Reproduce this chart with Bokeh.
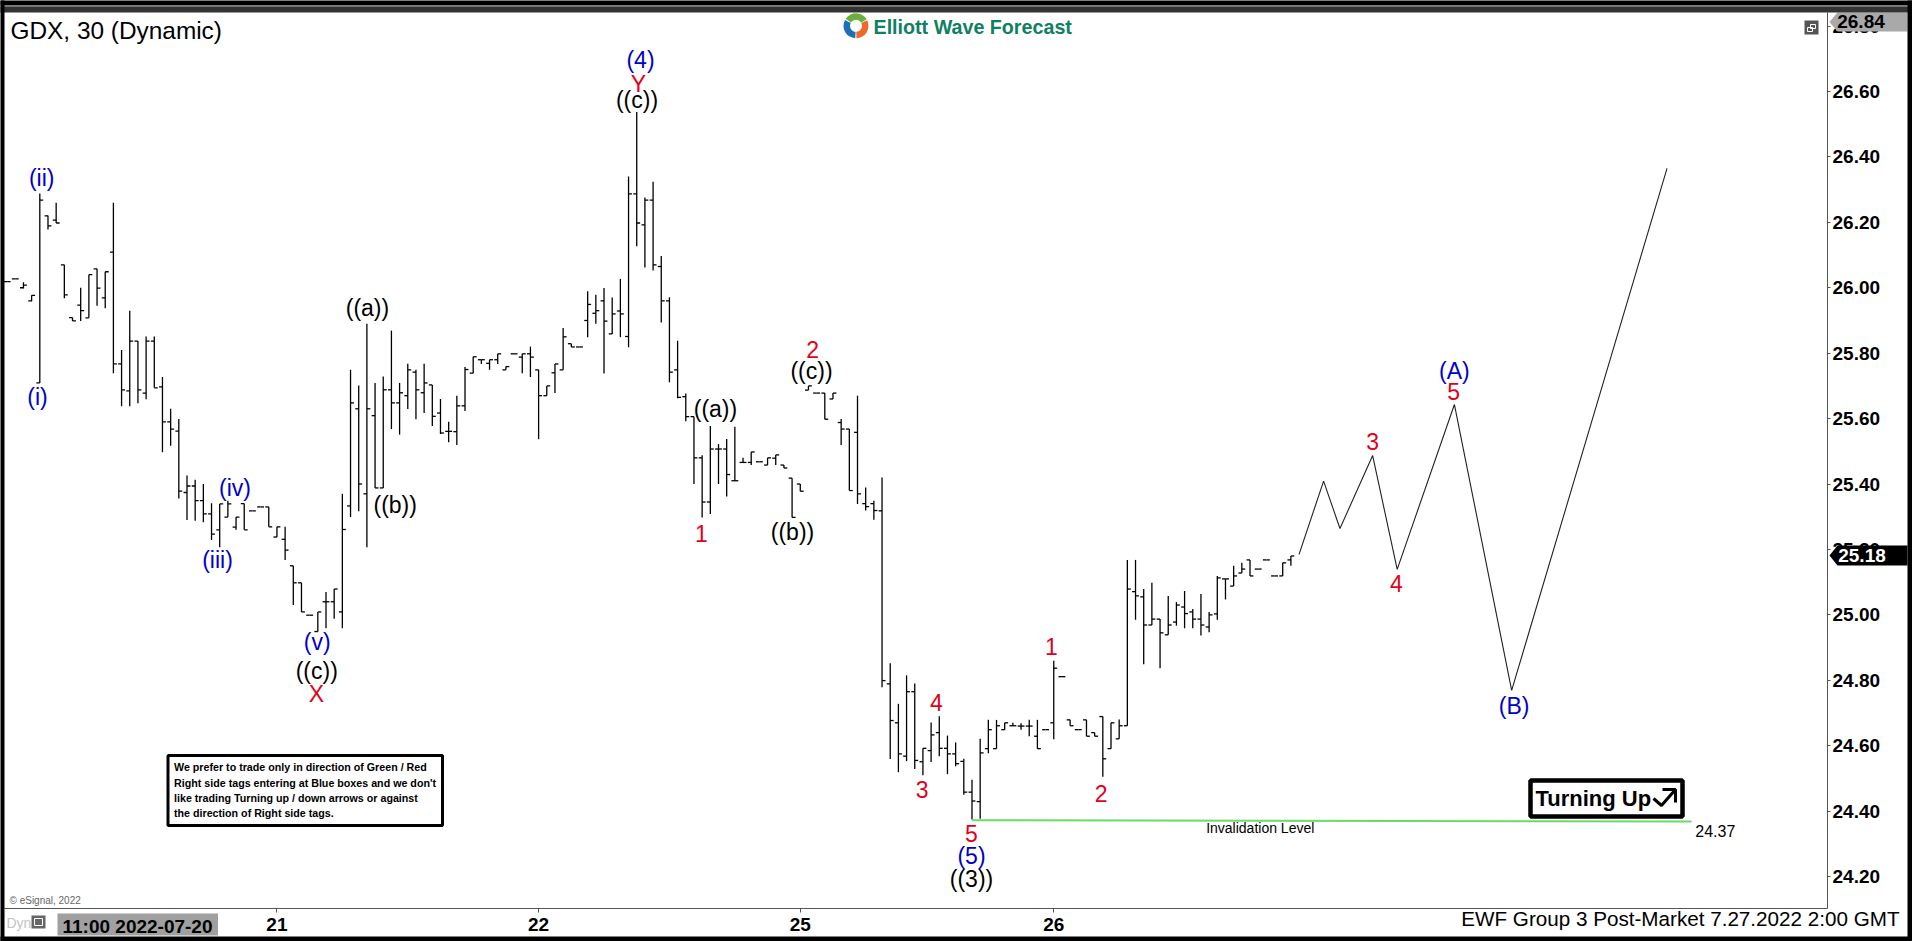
from bokeh.plotting import figure
from bokeh.models import LinearAxis, FixedTicker, Range1d, NumeralTickFormatter
from bokeh.core.properties import value
from bokeh.embed import file_html
from bokeh.resources import INLINE

# ---- chart values ----
opens = [26.019,26.027,26.000,25.960,25.709,26.220,26.207,26.070,25.909,25.947,
 25.908,26.058,25.969,26.109,25.767,25.685,25.837,25.678,25.837,25.697,
 25.590,25.562,25.374,25.394,25.349,25.309,25.260,25.299,25.268,25.340,
 25.318,25.330,25.330,25.238,25.231,25.150,25.098,24.999,24.949,25.040,
 25.040,25.009,25.333,25.630,25.370,25.609,25.388,25.688,25.648,25.670,
 25.742,25.679,25.703,25.617,25.561,25.560,25.639,25.739,25.780,25.769,
 25.780,25.749,25.798,25.788,25.798,25.749,25.670,25.740,25.749,25.829,
 25.819,25.900,25.922,25.960,25.859,25.929,25.851,26.287,26.192,26.268,
 26.065,25.960,25.749,25.667,25.606,25.480,25.345,25.507,25.507,25.410,
 25.466,25.466,25.468,25.458,25.479,25.458,25.418,25.400,25.687,25.678,
 25.678,25.660,25.588,25.568,25.558,25.340,25.340,25.318,24.789,24.670,
 24.568,24.765,24.551,24.585,24.640,24.592,24.575,24.552,24.458,24.429,
 24.591,24.591,24.649,24.661,24.660,24.660,24.629,24.649,24.670,24.811,
 24.679,24.649,24.679,24.640,24.689,24.591,24.621,24.661,25.071,25.055,
 24.969,24.987,24.939,24.978,25.024,25.009,24.987,24.963,25.003,25.110,
 25.088,25.128,25.168,25.140,25.168,25.119,25.119,25.168]
highs = [26.019,26.027,26.017,25.977,26.288,26.221,26.260,26.070,25.909,26.000,
 26.040,26.058,26.049,26.260,25.810,25.930,25.837,25.851,25.851,25.727,
 25.630,25.599,25.426,25.413,25.400,25.341,25.339,25.349,25.299,25.340,
 25.318,25.330,25.330,25.269,25.269,25.150,25.098,24.999,25.009,25.070,
 25.079,25.370,25.749,25.701,25.890,25.709,25.729,25.869,25.709,25.768,
 25.749,25.768,25.703,25.660,25.590,25.670,25.758,25.789,25.780,25.780,
 25.798,25.759,25.798,25.798,25.820,25.749,25.700,25.767,25.877,25.829,
 25.819,25.989,25.979,25.999,25.970,26.027,26.340,26.537,26.276,26.324,
 26.097,25.971,25.838,25.677,25.606,25.488,25.577,25.522,25.538,25.575,
 25.480,25.498,25.468,25.480,25.489,25.458,25.418,25.400,25.700,25.678,
 25.678,25.678,25.599,25.568,25.670,25.389,25.349,25.420,24.852,24.728,
 24.815,24.790,24.592,24.671,24.690,24.631,24.610,24.560,24.496,24.621,
 24.679,24.679,24.670,24.670,24.669,24.679,24.679,24.649,24.860,24.811,
 24.679,24.649,24.679,24.640,24.689,24.670,24.680,25.168,25.168,25.079,
 25.098,24.987,25.058,25.039,25.073,25.018,25.064,25.009,25.119,25.110,
 25.150,25.159,25.168,25.140,25.168,25.119,25.159,25.180]
lows = [26.019,26.027,25.998,25.959,25.709,26.178,26.198,25.968,25.898,25.898,
 25.908,25.945,25.937,25.739,25.638,25.638,25.647,25.659,25.694,25.497,
 25.517,25.356,25.290,25.288,25.283,25.229,25.207,25.299,25.260,25.260,
 25.318,25.330,25.269,25.238,25.168,25.030,25.009,24.999,24.949,24.959,
 24.988,24.959,25.299,25.317,25.207,25.388,25.388,25.568,25.551,25.629,
 25.598,25.617,25.577,25.553,25.528,25.519,25.623,25.739,25.767,25.749,
 25.767,25.749,25.798,25.739,25.727,25.537,25.670,25.678,25.749,25.819,
 25.819,25.849,25.890,25.738,25.859,25.849,25.818,26.127,26.062,26.053,
 25.894,25.711,25.662,25.592,25.400,25.298,25.308,25.400,25.362,25.410,
 25.466,25.458,25.468,25.458,25.458,25.449,25.298,25.378,25.687,25.678,
 25.598,25.660,25.519,25.380,25.339,25.319,25.291,24.779,24.559,24.519,
 24.553,24.529,24.510,24.550,24.568,24.513,24.537,24.450,24.374,24.377,
 24.577,24.591,24.649,24.661,24.649,24.629,24.591,24.649,24.620,24.811,
 24.661,24.649,24.629,24.629,24.505,24.591,24.621,24.661,24.985,24.849,
 24.969,24.837,24.939,24.967,24.959,24.959,24.937,24.947,24.985,25.047,
 25.088,25.128,25.119,25.140,25.168,25.119,25.119,25.150]
closes = [26.019,26.027,26.008,25.977,26.268,26.189,26.198,25.978,25.899,25.930,
 26.040,25.999,26.049,25.767,25.688,25.837,25.688,25.837,25.694,25.590,
 25.568,25.378,25.394,25.349,25.309,25.247,25.339,25.339,25.299,25.260,
 25.318,25.330,25.269,25.269,25.198,25.098,25.009,24.999,25.009,25.040,
 25.079,25.261,25.648,25.400,25.630,25.388,25.688,25.648,25.679,25.749,
 25.688,25.709,25.607,25.556,25.561,25.639,25.750,25.789,25.780,25.780,
 25.798,25.759,25.798,25.798,25.788,25.670,25.700,25.767,25.850,25.819,
 25.819,25.949,25.930,25.898,25.920,25.920,26.287,26.198,26.268,26.070,
 25.960,25.742,25.665,25.606,25.480,25.345,25.507,25.507,25.429,25.410,
 25.466,25.498,25.468,25.480,25.489,25.449,25.298,25.378,25.700,25.678,
 25.598,25.678,25.568,25.380,25.370,25.331,25.319,24.799,24.677,24.575,
 24.765,24.555,24.592,24.633,24.592,24.575,24.545,24.458,24.431,24.578,
 24.649,24.661,24.670,24.661,24.660,24.660,24.591,24.649,24.837,24.811,
 24.661,24.649,24.629,24.629,24.560,24.670,24.661,25.079,25.058,24.969,
 24.987,24.945,24.969,25.030,25.004,24.987,24.969,25.000,25.113,25.110,
 25.119,25.140,25.119,25.140,25.168,25.119,25.159,25.180]

forecast_bar = [158, 161, 163, 167, 170, 177, 184, 203]
forecast_price = [25.185, 25.409, 25.264, 25.487, 25.139, 25.643, 24.769, 26.365]

invalidation_bars = [118, 206]
invalidation_price = [24.372, 24.368]

price_ticks = [24.2, 24.4, 24.6, 24.8, 25.0, 25.2, 25.4, 25.6, 25.8, 26.0, 26.2, 26.4, 26.6, 26.8]
day_ticks = [33, 65, 97, 128]
day_labels = ["21", "22", "25", "26"]

blue_text = ["(4)", "(ii)", "(i)", "(iv)", "(iii)", "(v)", "(5)", "(A)", "(B)"]
blue_bar = [77.46, 4.23, 3.72, 27.87, 25.73, 37.92, 117.94, 177.0, 184.3]
blue_price = [26.696, 26.335, 25.665, 25.389, 25.167, 24.916, 24.264, 25.744, 24.720]

red_text = ["Y", "X", "2", "1", "3", "4", "5", "1", "2", "3", "5", "4"]
red_bar = [77.2, 37.84, 98.5, 84.92, 111.9, 113.66, 117.94, 127.7, 133.8, 167.0, 176.9, 169.9]
red_price = [26.624, 24.757, 25.812, 25.249, 24.466, 24.732, 24.332, 24.903, 24.454, 25.530, 25.683, 25.096]

black_text = ["((c))", "((a))", "((c))", "((b))", "((a))", "((c))", "((b))", "((3))"]
black_bar = [77.03, 44.07, 37.87, 47.46, 86.63, 98.37, 96.05, 117.94]
black_price = [26.575, 25.937, 24.828, 25.337, 25.628, 25.745, 25.252, 24.194]

note_lines = ["We prefer to trade only in direction of Green / Red",
              "Right side tags entering at Blue boxes and we don't",
              "like trading Turning up / down arrows or against",
              "the direction of Right side tags."]

# ---- geometry: picture pixels <-> data ----
W, H = 1912, 941
def rx(x):    # picture x -> bar number
    return (x - 6.6) / 8.177
def py(y):    # picture y -> price
    return 26.6 - (y - 91) / 327.1

FONT = "Liberation Sans"
p = figure(width=W, height=H, output_backend="svg", toolbar_location=None,
           x_range=Range1d(rx(0), rx(W)), y_range=Range1d(py(H), py(0)),
           x_axis_type=None, y_axis_type=None, min_border=0, outline_line_color=None,
           background_fill_color="white", border_fill_color="white")
p.xgrid.visible = False
p.ygrid.visible = False

# ---- axes ----
y_ax = LinearAxis(fixed_location=rx(1827), ticker=FixedTicker(ticks=price_ticks),
                  bounds=(py(908), py(12)))
y_ax.formatter = NumeralTickFormatter(format="0.00")
y_ax.major_tick_in, y_ax.major_tick_out = 0, 3
y_ax.minor_tick_in, y_ax.minor_tick_out = 0, 0
y_ax.axis_line_color = y_ax.major_tick_line_color = "#555555"
y_ax.major_label_standoff = 2
y_ax.major_label_text_font = FONT
y_ax.major_label_text_font_size = "19px"
y_ax.major_label_text_font_style = "bold"
y_ax.major_label_text_color = "black"
p.add_layout(y_ax, "right")

x_ax = LinearAxis(fixed_location=py(908), ticker=FixedTicker(ticks=day_ticks),
                  bounds=(rx(4), rx(1827)))
x_ax.major_label_overrides = dict(zip(day_ticks, day_labels))
x_ax.major_tick_in, x_ax.major_tick_out = 0, 4
x_ax.minor_tick_in, x_ax.minor_tick_out = 0, 0
x_ax.axis_line_color = x_ax.major_tick_line_color = "#555555"
x_ax.major_label_standoff = 5
x_ax.major_label_text_font = FONT
x_ax.major_label_text_font_size = "19px"
x_ax.major_label_text_font_style = "bold"
x_ax.major_label_text_color = "black"
p.add_layout(x_ax, "below")

# ---- OHLC bars ----
bars = list(range(len(opens)))
TICK = 0.42
p.segment(bars, lows, bars, highs, line_color="black", line_width=1.3)
p.segment([b - TICK for b in bars], opens, bars, opens, line_color="black", line_width=1.3)
p.segment(bars, closes, [b + TICK for b in bars], closes, line_color="black", line_width=1.3)

# ---- forecast + invalidation ----
p.line(forecast_bar, forecast_price, line_color="#222222", line_width=1.1)
p.line(invalidation_bars, invalidation_price, line_color="#66dd66", line_width=2)

def put(x, y, s, color="black", size=23, align="center", style="normal", level="glyph"):
    p.text([x], [y], text=[s], text_color=color, text_font=value(FONT), text_font_size=f"{size}px",
           text_font_style=style, text_align=align, text_baseline="middle", level=level)

for group, color in ((zip(blue_bar, blue_price, blue_text), "#0000cc"),
                     (zip(red_bar, red_price, red_text), "#e2001a"),
                     (zip(black_bar, black_price, black_text), "black")):
    for x, y, s in group:
        put(x, y, s, color)

put(153.25, 24.347, "Invalidation Level", size=14)
put(208.9, 24.338, "24.37", size=16)

# ---- header ----
put(rx(10), py(29.5), "GDX, 30 (Dynamic)", size=24.4, align="left")
put(rx(873), py(26), "Elliott Wave Forecast", color="#0f8062", size=19.7, align="left", style="bold")
for a, b, c in ((0.55, 2.55, "#6aae3c"), (2.65, 4.65, "#1c6fb8"), (4.75, 6.75, "#ee6a2c")):
    p.annular_wedge([rx(855.5)], [py(25.3)], inner_radius=6, outer_radius=12.5,
                    inner_radius_units="screen", outer_radius_units="screen",
                    start_angle=a, end_angle=b, fill_color=c, line_color=None)

# ---- note box ----
p.quad(left=[rx(167.5)], right=[rx(442)], top=[py(755)], bottom=[py(825)],
       fill_color="white", line_color="black", line_width=3)
for s, y in zip(note_lines, (766.7, 782, 797, 812)):
    put(rx(173.5), py(y), s, size=10.7, align="left", style="bold")

# ---- turning up box ----
p.quad(left=[rx(1530)], right=[rx(1682)], top=[py(780)], bottom=[py(816)],
       fill_color="white", line_color="black", line_width=4.5)
put(rx(1535), py(798), "Turning Up", size=22, align="left", style="bold")
p.line([rx(1653), rx(1661), rx(1675)], [py(798), py(805), py(789)], line_color="black", line_width=3)
p.line([rx(1662), rx(1675), rx(1675)], [py(789), py(789), py(802)], line_color="black", line_width=3)

# ---- footer ----
put(rx(9), py(900), "© eSignal, 2022", color="#666666", size=10, align="left")
put(rx(6), py(922), "Dyn", color="#c4c4c4", size=14, align="left")
p.quad(left=[rx(31)], right=[rx(45)], top=[py(915)], bottom=[py(928)], fill_color="#666666", line_color=None)
p.quad(left=[rx(34)], right=[rx(42)], top=[py(918)], bottom=[py(925)], fill_color=None, line_color="white", line_width=1)
p.quad(left=[rx(57)], right=[rx(217.5)], top=[py(913)], bottom=[py(935)], fill_color="#a0a0a0", line_color=None)
put(rx(137), py(926), "11:00 2022-07-20", size=19, style="bold")
put(rx(1899), py(918), "EWF Group 3 Post-Market 7.27.2022 2:00 GMT", size=20.65, align="right", level="overlay")

# ---- top-right window icon ----
p.quad(left=[rx(1804)], right=[rx(1818)], top=[py(20)], bottom=[py(34)], fill_color="#555555", line_color=None)
p.quad(left=[rx(1810)], right=[rx(1815)], top=[py(24)], bottom=[py(28)], fill_color=None, line_color="white", line_width=1)
p.quad(left=[rx(1807)], right=[rx(1812)], top=[py(27)], bottom=[py(31)], fill_color=None, line_color="white", line_width=1)

# ---- right-side price tags ----
def tag(y0, y1, fill):
    xs = [rx(1829), rx(1837), rx(1907), rx(1907), rx(1837)]
    ys = [py((y0 + y1) / 2), py(y0), py(y0), py(y1), py(y1)]
    p.patch(xs, ys, fill_color=fill, line_color=None, level="overlay")
tag(12, 31, "#a9a9a9")
put(rx(1860.5), py(21), "26.84", size=19, style="bold", level="overlay")
tag(545, 565, "black")
put(rx(1861.5), py(555), "25.18", color="white", size=19, style="bold", level="overlay")

# ---- window frame ----
for l, r, t, b, c in ((0, W, 0, 5, "black"), (0, W, 5, 6, "#777777"), (0, W, 6, 12, "#333333"),
                      (0, 4, 0, H, "black"), (1907, W, 0, H, "black"),
                      (0, W, 936, H, "black")):
    p.quad(left=[rx(l)], right=[rx(r)], top=[py(t)], bottom=[py(b)], fill_color=c, line_color=None, level="overlay")

open("out.html", "w").write(file_html(p, INLINE))
